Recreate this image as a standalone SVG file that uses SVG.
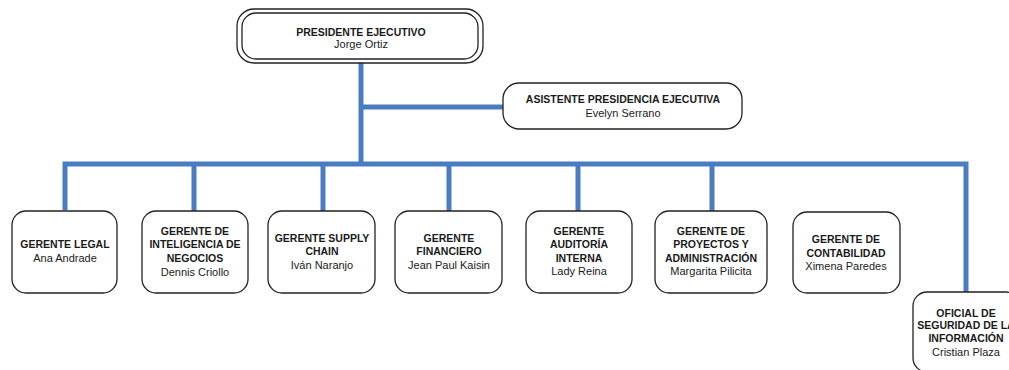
<svg xmlns="http://www.w3.org/2000/svg" width="1009" height="370" viewBox="0 0 1009 370">
<style>
.box{fill:#fff;stroke:#222;stroke-width:1.3}
.t{font-family:"Liberation Sans",Arial,sans-serif;font-size:10.5px;font-weight:bold;fill:#1a1a1a;text-anchor:middle}
.n{font-family:"Liberation Sans",Arial,sans-serif;font-size:11px;fill:#1a1a1a;text-anchor:middle}
.c{fill:none;stroke:#4a7cc3;stroke-width:5;stroke-linejoin:miter}
</style>
<rect width="1009" height="370" fill="#fff"/>
<g id="connectors">
<path class="c" d="M361,62 V164"/>
<path class="c" d="M361,107 H503"/>
<path class="c" d="M65,210 V164 H966 V292"/>
<path class="c" d="M194,164 V211"/>
<path class="c" d="M323,164 V211"/>
<path class="c" d="M449,164 V211"/>
<path class="c" d="M578,164 V211"/>
<path class="c" d="M712,164 V211"/>
</g>
<g id="presidente">
<rect class="box" x="237" y="9" width="246" height="54" rx="17"/>
<rect class="box" x="242" y="13" width="236" height="46" rx="14"/>
<text class="t" x="361" y="36">PRESIDENTE EJECUTIVO</text>
<text class="n" x="361" y="48">Jorge Ortiz</text>
</g>
<g id="asistente">
<rect class="box" x="503" y="83" width="239" height="46" rx="16"/>
<text class="t" x="623" y="103">ASISTENTE PRESIDENCIA EJECUTIVA</text>
<text class="n" x="623" y="117">Evelyn Serrano</text>
</g>
<g id="legal">
<rect class="box" x="12" y="211" width="105" height="82" rx="14"/>
<text class="t" x="65" y="248">GERENTE LEGAL</text>
<text class="n" x="65" y="262">Ana Andrade</text>
</g>
<g id="inteligencia">
<rect class="box" x="142" y="211" width="106" height="82" rx="14"/>
<text class="t" x="195" y="235">GERENTE DE</text>
<text class="t" x="195" y="248">INTELIGENCIA DE</text>
<text class="t" x="195" y="262">NEGOCIOS</text>
<text class="n" x="195" y="276">Dennis Criollo</text>
</g>
<g id="supply">
<rect class="box" x="268" y="211" width="107" height="82" rx="14"/>
<text class="t" x="322" y="242">GERENTE SUPPLY</text>
<text class="t" x="322" y="255">CHAIN</text>
<text class="n" x="322" y="269">Iván Naranjo</text>
</g>
<g id="financiero">
<rect class="box" x="395" y="211" width="107" height="82" rx="14"/>
<text class="t" x="449" y="242">GERENTE</text>
<text class="t" x="449" y="255">FINANCIERO</text>
<text class="n" x="449" y="269">Jean Paul Kaisin</text>
</g>
<g id="auditoria">
<rect class="box" x="526" y="211" width="106" height="82" rx="14"/>
<text class="t" x="579" y="235">GERENTE</text>
<text class="t" x="579" y="248">AUDITORÍA</text>
<text class="t" x="579" y="262">INTERNA</text>
<text class="n" x="579" y="275">Lady Reina</text>
</g>
<g id="proyectos">
<rect class="box" x="655" y="211" width="112" height="82" rx="14"/>
<text class="t" x="711" y="235">GERENTE DE</text>
<text class="t" x="711" y="248">PROYECTOS Y</text>
<text class="t" x="711" y="262">ADMINISTRACIÓN</text>
<text class="n" x="711" y="275">Margarita Pilicita</text>
</g>
<g id="contabilidad">
<rect class="box" x="793" y="212" width="107" height="81" rx="14"/>
<text class="t" x="846" y="243">GERENTE DE</text>
<text class="t" x="846" y="257">CONTABILIDAD</text>
<text class="n" x="846" y="270">Ximena Paredes</text>
</g>
<g id="oficial">
<rect class="box" x="913" y="292" width="107" height="80" rx="14"/>
<text class="t" x="966" y="317">OFICIAL DE</text>
<text class="t" x="966" y="329">SEGURIDAD DE LA</text>
<text class="t" x="966" y="342">INFORMACIÓN</text>
<text class="n" x="966" y="356">Cristian Plaza</text>
</g>
</svg>
